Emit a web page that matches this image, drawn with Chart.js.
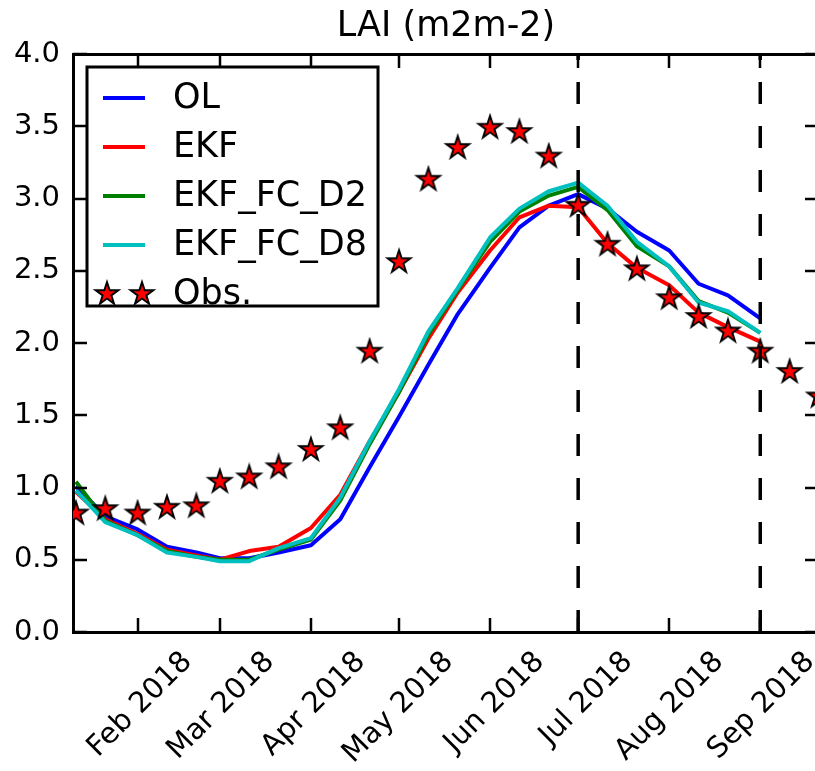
<!DOCTYPE html>
<html><head><meta charset="utf-8">
<script src="https://cdn.jsdelivr.net/npm/chart.js@4.4.1/dist/chart.umd.min.js"></script>
<style>html,body{margin:0;padding:0;overflow:hidden;background:#fff}canvas{display:block}</style>
</head><body>
<canvas id="c" width="892" height="771"></canvas>
<script>
// ---------- data ----------
const modelDates = ['2018-01-11','2018-01-21','2018-02-01','2018-02-11','2018-02-21','2018-03-01','2018-03-11','2018-03-21','2018-04-01','2018-04-11','2018-04-21','2018-05-01','2018-05-11','2018-05-21','2018-06-01','2018-06-11','2018-06-21','2018-07-01','2018-07-11','2018-07-21','2018-08-01','2018-08-11','2018-08-21','2018-09-01'];
const olValues    = [1.01,0.80,0.71,0.59,0.55,0.51,0.51,0.55,0.60,0.78,1.14,1.49,1.85,2.20,2.52,2.80,2.95,3.03,2.93,2.77,2.64,2.41,2.33,2.17];
const ekfValues   = [0.97,0.78,0.68,0.57,0.53,0.50,0.56,0.59,0.72,0.95,1.32,1.66,2.03,2.35,2.64,2.87,2.95,2.94,2.69,2.52,2.40,2.21,2.11,2.01];
const ekfD2Values = [1.04,0.77,0.67,0.56,0.52,0.50,0.50,0.57,0.64,0.91,1.30,1.66,2.06,2.37,2.70,2.91,3.02,3.08,2.92,2.67,2.53,2.29,2.21,2.07];
const ekfD8Values = [0.98,0.76,0.67,0.55,0.52,0.49,0.49,0.58,0.65,0.93,1.32,1.68,2.08,2.38,2.73,2.93,3.05,3.11,2.95,2.70,2.53,2.28,2.22,2.07];
const obsDates = ['2018-01-11','2018-01-21','2018-02-01','2018-02-11','2018-02-21','2018-03-01','2018-03-11','2018-03-21','2018-04-01','2018-04-11','2018-04-21','2018-05-01','2018-05-11','2018-05-21','2018-06-01','2018-06-11','2018-06-21','2018-07-01','2018-07-11','2018-07-21','2018-08-01','2018-08-11','2018-08-21','2018-09-01','2018-09-11','2018-09-21'];
const obsValues = [0.82,0.85,0.82,0.86,0.87,1.04,1.07,1.14,1.26,1.41,1.94,2.56,3.13,3.35,3.49,3.46,3.29,2.95,2.68,2.51,2.31,2.18,2.08,1.94,1.80,1.63];
const windowDates = ['2018-07-01','2018-09-01'];
const xRange = ['2018-01-10','2018-09-21'];
const monthTickDates = ['2018-02-01','2018-03-01','2018-04-01','2018-05-01','2018-06-01','2018-07-01','2018-08-01','2018-09-01'];
const monthTickLabels = ['Feb 2018','Mar 2018','Apr 2018','May 2018','Jun 2018','Jul 2018','Aug 2018','Sep 2018'];
const yTickValues = [0,0.5,1.0,1.5,2.0,2.5,3.0,3.5,4.0];
const seriesNames = ['OL','EKF','EKF_FC_D2','EKF_FC_D8','Obs.'];
const titleText = 'LAI (m2m-2)';

// ---------- helpers ----------
const t = s => Date.parse(s + 'T00:00:00Z');
const pts = (dates, vals) => vals.map((v, i) => ({x: t(dates[i]), y: v}));
const yMin = yTickValues[0], yMax = yTickValues[yTickValues.length - 1];

function makeStar(R, fill, edge, lw) {
  const s = Math.ceil(2 * R + 2 * lw + 2);
  const c = document.createElement('canvas');
  c.width = s; c.height = s;
  const g = c.getContext('2d');
  const cx = s / 2, cy = s / 2;
  g.beginPath();
  for (let i = 0; i < 10; i++) {
    const r = i % 2 ? R * 0.381966 : R;
    const a = -Math.PI / 2 + i * Math.PI / 5;
    g.lineTo(cx + r * Math.cos(a), cy + r * Math.sin(a));
  }
  g.closePath();
  g.fillStyle = fill; g.fill();
  g.lineWidth = lw; g.lineJoin = 'miter'; g.strokeStyle = edge; g.stroke();
  return c;
}
const star = makeStar(12, '#ff0000', '#000000', 1.9);

Chart.defaults.font.family = "'DejaVu Sans', sans-serif";
Chart.defaults.color = '#000';

const LINE_W = 4;
const lineDs = (label, vals, color, order) => ({
  label, data: pts(modelDates, vals), borderColor: color, backgroundColor: color,
  borderWidth: LINE_W, pointRadius: 0, tension: 0, fill: false, order,
  borderJoinStyle: 'round', xAxisID: 'x', yAxisID: 'y', inLegend: true
});

const datasets = [
  lineDs(seriesNames[0], olValues, '#0000ff', 6),
  lineDs(seriesNames[1], ekfValues, '#ff0000', 5),
  lineDs(seriesNames[2], ekfD2Values, '#008000', 4),
  lineDs(seriesNames[3], ekfD8Values, '#00bfbf', 3),
  {label: seriesNames[4], data: pts(obsDates, obsValues), showLine: false,
   pointStyle: star, pointRadius: 12, borderColor: '#000', backgroundColor: '#ff0000',
   clip: 0, order: 2, xAxisID: 'x', yAxisID: 'y', inLegend: true, isStar: true}
];
windowDates.forEach(d => datasets.push({
  label: 'window', data: [{x: t(d), y: yMin}, {x: t(d), y: yMax}],
  borderColor: '#000', borderWidth: 3.5, borderDash: [22, 22], pointRadius: 0,
  order: 1, xAxisID: 'x', yAxisID: 'y', inLegend: false
}));

// inward tick marks on all four sides (positions from the scales)
const inwardTicks = {
  id: 'inwardTicks',
  afterDatasetsDraw(chart) {
    const {ctx, chartArea: a, scales: {x, y}} = chart;
    const L = 14;
    ctx.save();
    ctx.strokeStyle = '#000'; ctx.lineWidth = 2.5;
    ctx.beginPath();
    x.ticks.forEach(tk => {
      const px = Math.round(x.getPixelForValue(tk.value));
      ctx.moveTo(px, a.bottom); ctx.lineTo(px, a.bottom - L);
      ctx.moveTo(px, a.top); ctx.lineTo(px, a.top + L);
    });
    y.ticks.forEach(tk => {
      const py = Math.round(y.getPixelForValue(tk.value));
      ctx.moveTo(a.left, py); ctx.lineTo(a.left + L, py);
      ctx.moveTo(a.right, py); ctx.lineTo(a.right - L, py);
    });
    ctx.stroke();
    ctx.restore();
  }
};

// matplotlib-style framed legend inside the axes
const boxLegend = {
  id: 'boxLegend',
  afterDatasetsDraw(chart) {
    const {ctx, chartArea: a} = chart;
    const items = chart.data.datasets.filter(d => d.inLegend);
    const bx = a.left + 14, by = a.top + 13, bw = 291, bh = 239, rowH = 49;
    ctx.save();
    ctx.fillStyle = '#fff';
    ctx.fillRect(bx, by, bw, bh);
    ctx.strokeStyle = '#000'; ctx.lineWidth = 3;
    ctx.strokeRect(bx, by, bw, bh);
    ctx.font = "35px 'DejaVu Sans'";
    ctx.textBaseline = 'middle'; ctx.textAlign = 'left';
    items.forEach((d, i) => {
      const cy = by + 31 + i * rowH;
      if (d.isStar) {
        [bx + 20, bx + 55].forEach(sx => ctx.drawImage(star, sx - star.width / 2, cy - star.height / 2));
      } else {
        ctx.strokeStyle = d.borderColor; ctx.lineWidth = LINE_W;
        ctx.beginPath(); ctx.moveTo(bx + 16, cy); ctx.lineTo(bx + 58, cy); ctx.stroke();
      }
      ctx.fillStyle = '#000';
      ctx.fillText(d.label, bx + 86, cy + 1);
    });
    ctx.restore();
  }
};

const tickFont = {family: "'DejaVu Sans'", size: 29};
const Y_AXIS_W = 60, X_AXIS_H = 139;

new Chart(document.getElementById('c'), {
  type: 'line',
  data: {datasets},
  plugins: [inwardTicks, boxLegend],
  options: {
    responsive: false, animation: false, devicePixelRatio: 1, events: [],
    layout: {padding: {left: 13, right: 13, top: 0, bottom: 0}},
    plugins: {
      legend: {display: false}, tooltip: {enabled: false},
      title: {display: true, text: titleText, color: '#000',
        font: {family: "'DejaVu Sans'", size: 35, weight: 'normal', lineHeight: 1.2},
        padding: {top: 6, bottom: 6}}
    },
    scales: {
      x: {type: 'linear', position: 'bottom', min: t(xRange[0]), max: t(xRange[1]),
        afterBuildTicks: s => { s.ticks = monthTickDates.map(d => ({value: t(d)})); },
        afterFit: s => { s.height = X_AXIS_H; },
        grid: {display: false, drawTicks: false},
        border: {display: true, width: 3, color: '#000'},
        ticks: {autoSkip: false, minRotation: 45, maxRotation: 45, padding: 13, labelOffset: 50,
          font: tickFont, color: '#000',
          callback: v => monthTickLabels[monthTickDates.findIndex(d => t(d) === v)]}
      },
      x2: {type: 'linear', position: 'top', min: t(xRange[0]), max: t(xRange[1]),
        afterFit: s => { s.height = 0; },
        grid: {display: false, drawTicks: false},
        border: {display: true, width: 3, color: '#000'},
        ticks: {display: false}
      },
      y: {type: 'linear', position: 'left', min: yMin, max: yMax,
        afterBuildTicks: s => { s.ticks = yTickValues.map(v => ({value: v})); },
        afterFit: s => { s.width = Y_AXIS_W; },
        grid: {display: false, drawTicks: false},
        border: {display: true, width: 3, color: '#000'},
        ticks: {padding: 13, font: tickFont, color: '#000', callback: v => v.toFixed(1)}
      },
      y2: {type: 'linear', position: 'right', min: yMin, max: yMax,
        afterFit: s => { s.width = Y_AXIS_W; },
        grid: {display: false, drawTicks: false},
        border: {display: true, width: 3, color: '#000'},
        ticks: {display: false}
      }
    }
  }
});
</script>
</body></html>
